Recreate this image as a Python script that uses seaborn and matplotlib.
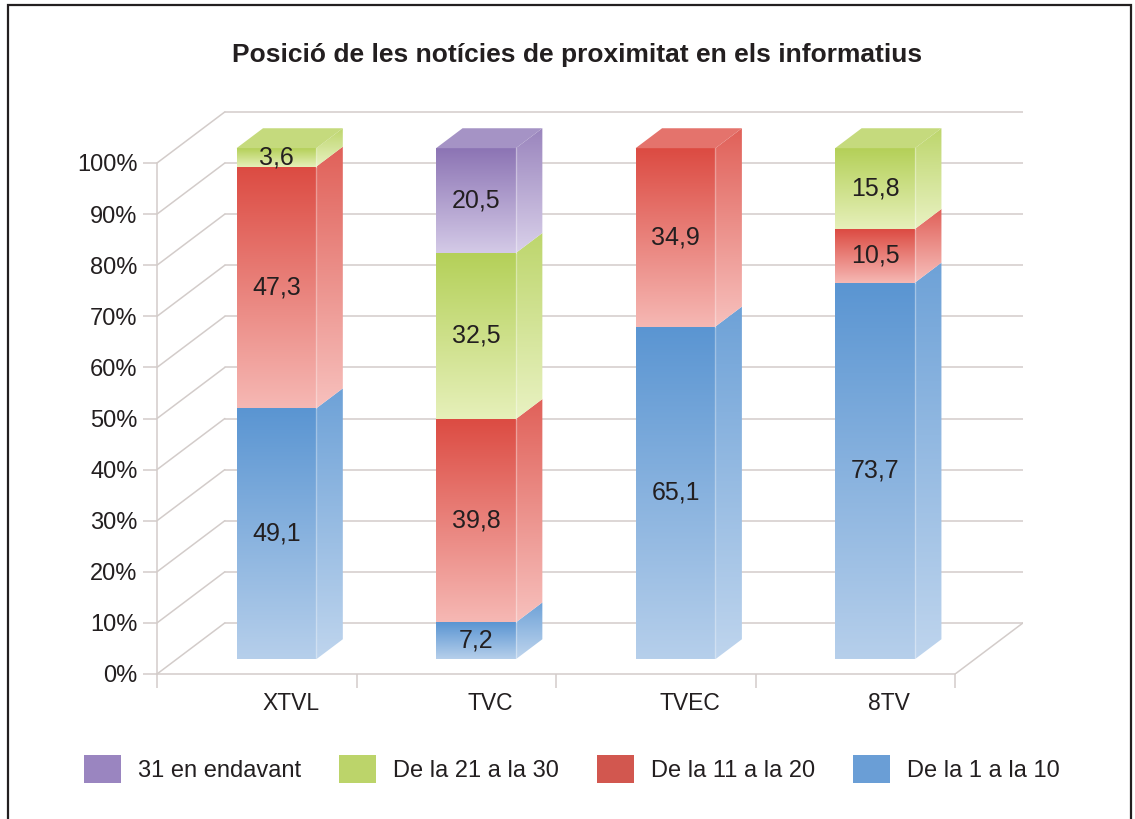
import numpy as np
import pandas as pd
import matplotlib
matplotlib.use("Agg")
import matplotlib.pyplot as plt
import seaborn as sns
from matplotlib.patches import Polygon, Rectangle, Patch
from matplotlib.colors import LinearSegmentedColormap, to_rgb
from matplotlib.transforms import ScaledTranslation

# Dades llegides del gràfic (percentatges)
canals = ["XTVL", "TVC", "TVEC", "8TV"]
trams = ["De la 1 a la 10", "De la 11 a la 20", "De la 21 a la 30", "31 en endavant"]
de_1_a_10 = [49.1, 7.2, 65.1, 73.7]
de_11_a_20 = [47.3, 39.8, 34.9, 10.5]
de_21_a_30 = [3.6, 32.5, 0.0, 15.8]
de_31_endavant = [0.0, 20.5, 0.0, 0.0]
valors = [de_1_a_10, de_11_a_20, de_21_a_30, de_31_endavant]
marques_y = [0, 10, 20, 30, 40, 50, 60, 70, 80, 90, 100]

# colors: part de dalt (fosc) i part de baix (clar) del degradat
colors_dalt = ["#5A95D2", "#DC4B42", "#B4D058", "#8C74B4"]
colors_baix = ["#B6CFEB", "#F6B8B4", "#E6F0BA", "#D4CAE7"]
colors_llegenda = ["#6A9ED6", "#D2574F", "#BCD46A", "#9A85C0"]

df = pd.DataFrame({
    "Canal": canals * len(trams),
    "Tram": np.repeat(trams, len(canals)),
    "Valor": np.concatenate(valors),
})
df["Base"] = df.groupby("Canal")["Valor"].cumsum() - df["Valor"]

sns.set_style("white")
plt.rcParams["font.family"] = ["Liberation Sans", "DejaVu Sans"]
text_color = "#231F20"
grid_color = "#D3CCCA"

W, H = 1135, 819
fig = plt.figure(figsize=(W / 100, H / 100), dpi=100)
ax = fig.add_axes([157 / W, 1 - 674 / H, (1023 - 157) / W, (674 - 111) / H])

# falsa perspectiva
FONS_DX, FONS_DY = 0.34, 10.0
desp_x, desp_y = 0.29 * FONS_DX, 0.29 * FONS_DY
prof_x, prof_y = 0.39 * FONS_DX, 0.39 * FONS_DY

# paret del fons i terra
x0, x1 = -0.5, len(canals) - 0.5
for v in marques_y:
    ax.plot([x0, x0 + FONS_DX], [v, v + FONS_DY], color=grid_color, lw=1.1, zorder=1)
    ax.plot([x0 + FONS_DX, x1 + FONS_DX], [v + FONS_DY, v + FONS_DY], color=grid_color, lw=1.1, zorder=1)
ax.plot([x1, x1 + FONS_DX], [0, FONS_DY], color=grid_color, lw=1.1, zorder=1)


def degradat(c_top, c_bot):
    return LinearSegmentedColormap.from_list("g", [c_bot, c_top])


def aclarir(c, f):
    r = np.array(to_rgb(c))
    return tuple(r + (1 - r) * f)


grad = np.linspace(0, 1, 256).reshape(-1, 1)
barres = []
for i, tram in enumerate(trams):
    sub = df[df["Tram"] == tram]
    n0 = len(ax.patches)
    sns.barplot(data=sub, x="Canal", y="Valor", order=canals, color=colors_dalt[i],
                saturation=1, width=0.4, errorbar=None, linewidth=0,
                bottom=sub["Base"].to_numpy(), ax=ax, zorder=3)
    barres.append(list(ax.patches[n0:]))

total = df.groupby("Canal")["Valor"].sum()
for i, tram in enumerate(trams):
    cmap = degradat(colors_dalt[i], colors_baix[i])
    cmap_side = degradat(aclarir(colors_dalt[i], 0.12), aclarir(colors_baix[i], 0.12))
    for j, p in enumerate(barres[i]):
        v = valors[i][j]
        p.set_x(p.get_x() + desp_x)
        p.set_y(p.get_y() + desp_y)
        if v <= 0:
            p.set_visible(False)
            continue
        bx0, by0 = p.get_x(), p.get_y()
        bx1, by1 = bx0 + p.get_width(), by0 + p.get_height()
        im = ax.imshow(grad, extent=[bx0, bx1, by0, by1], origin="lower", cmap=cmap,
                       aspect="auto", zorder=4, interpolation="bilinear")
        im.set_clip_path(p)
        # cara lateral
        side = Polygon([(bx1, by0), (bx1 + prof_x, by0 + prof_y), (bx1 + prof_x, by1 + prof_y), (bx1, by1)],
                       closed=True, facecolor="none", edgecolor="none", zorder=4)
        ax.add_patch(side)
        im2 = ax.imshow(grad, extent=[bx1, bx1 + prof_x, by0, by1 + prof_y], origin="lower",
                        cmap=cmap_side, aspect="auto", zorder=4, interpolation="bilinear")
        im2.set_clip_path(side)
        ax.plot([bx1, bx1], [by0, by1], color="white", alpha=0.35, lw=1, zorder=5)
        # cara superior, només al segment de dalt
        if abs(by1 - desp_y - total[canals[j]]) < 1e-6:
            top = Polygon([(bx0, by1), (bx1, by1), (bx1 + prof_x, by1 + prof_y), (bx0 + prof_x, by1 + prof_y)],
                          closed=True, facecolor=aclarir(colors_dalt[i], 0.22), edgecolor="none", zorder=4)
            ax.add_patch(top)
        ax.text((bx0 + bx1) / 2, (by0 + by1) / 2, f"{v:.1f}".replace(".", ","),
                ha="center", va="center", fontsize=18, color=text_color, zorder=6)

ax.set_xlim(x0, x1 + FONS_DX)
ax.set_ylim(0, 563 / 5.11)
ax.set_xlabel("")
ax.set_ylabel("")
for s in ["top", "right"]:
    ax.spines[s].set_visible(False)
for s in ["left", "bottom"]:
    ax.spines[s].set_color(grid_color)
    ax.spines[s].set_linewidth(1.1)
ax.spines["left"].set_bounds(0, 100)
ax.spines["bottom"].set_bounds(x0, x1)

ax.set_yticks(marques_y)
ax.set_yticklabels([f"{v}%" for v in marques_y])
ax.tick_params(axis="y", length=10, width=1.1, color=grid_color, labelsize=17,
               labelcolor=text_color, pad=4, left=True)
ax.set_xticks(range(len(canals)))
ax.set_xticklabels(canals)
ax.set_xticks(np.arange(x0, x1 + 0.01, 1.0), minor=True)
ax.tick_params(axis="x", which="major", length=0, labelsize=16.5, labelcolor=text_color, pad=13)
ax.tick_params(axis="x", which="minor", length=10, width=1.1, color=grid_color, bottom=True)
for lab in ax.get_xticklabels():
    lab.set_transform(lab.get_transform() + ScaledTranslation(0.34, 0, fig.dpi_scale_trans))

fig.text(577.5 / W, 1 - 55 / H, "Posició de les notícies de proximitat en els informatius",
         ha="center", va="center", fontsize=19, fontweight="bold", color=text_color)

ordre = [3, 2, 1, 0]
handles = [Patch(facecolor=colors_llegenda[k], edgecolor="none") for k in ordre]
fig.legend(handles, [trams[k] for k in ordre], loc="center", bbox_to_anchor=(572 / W, 1 - 769 / H),
           ncol=4, frameon=False, fontsize=17, handlelength=1.57,
           handleheight=1.44, handletextpad=0.72, columnspacing=1.6, labelcolor=text_color)

fig.add_artist(Rectangle((8 / W, -0.1), (1131 - 8) / W, 1.1 - 5 / H, transform=fig.transFigure,
                         facecolor="none", edgecolor=text_color, lw=1.6))

fig.savefig("out.png", dpi=100)
